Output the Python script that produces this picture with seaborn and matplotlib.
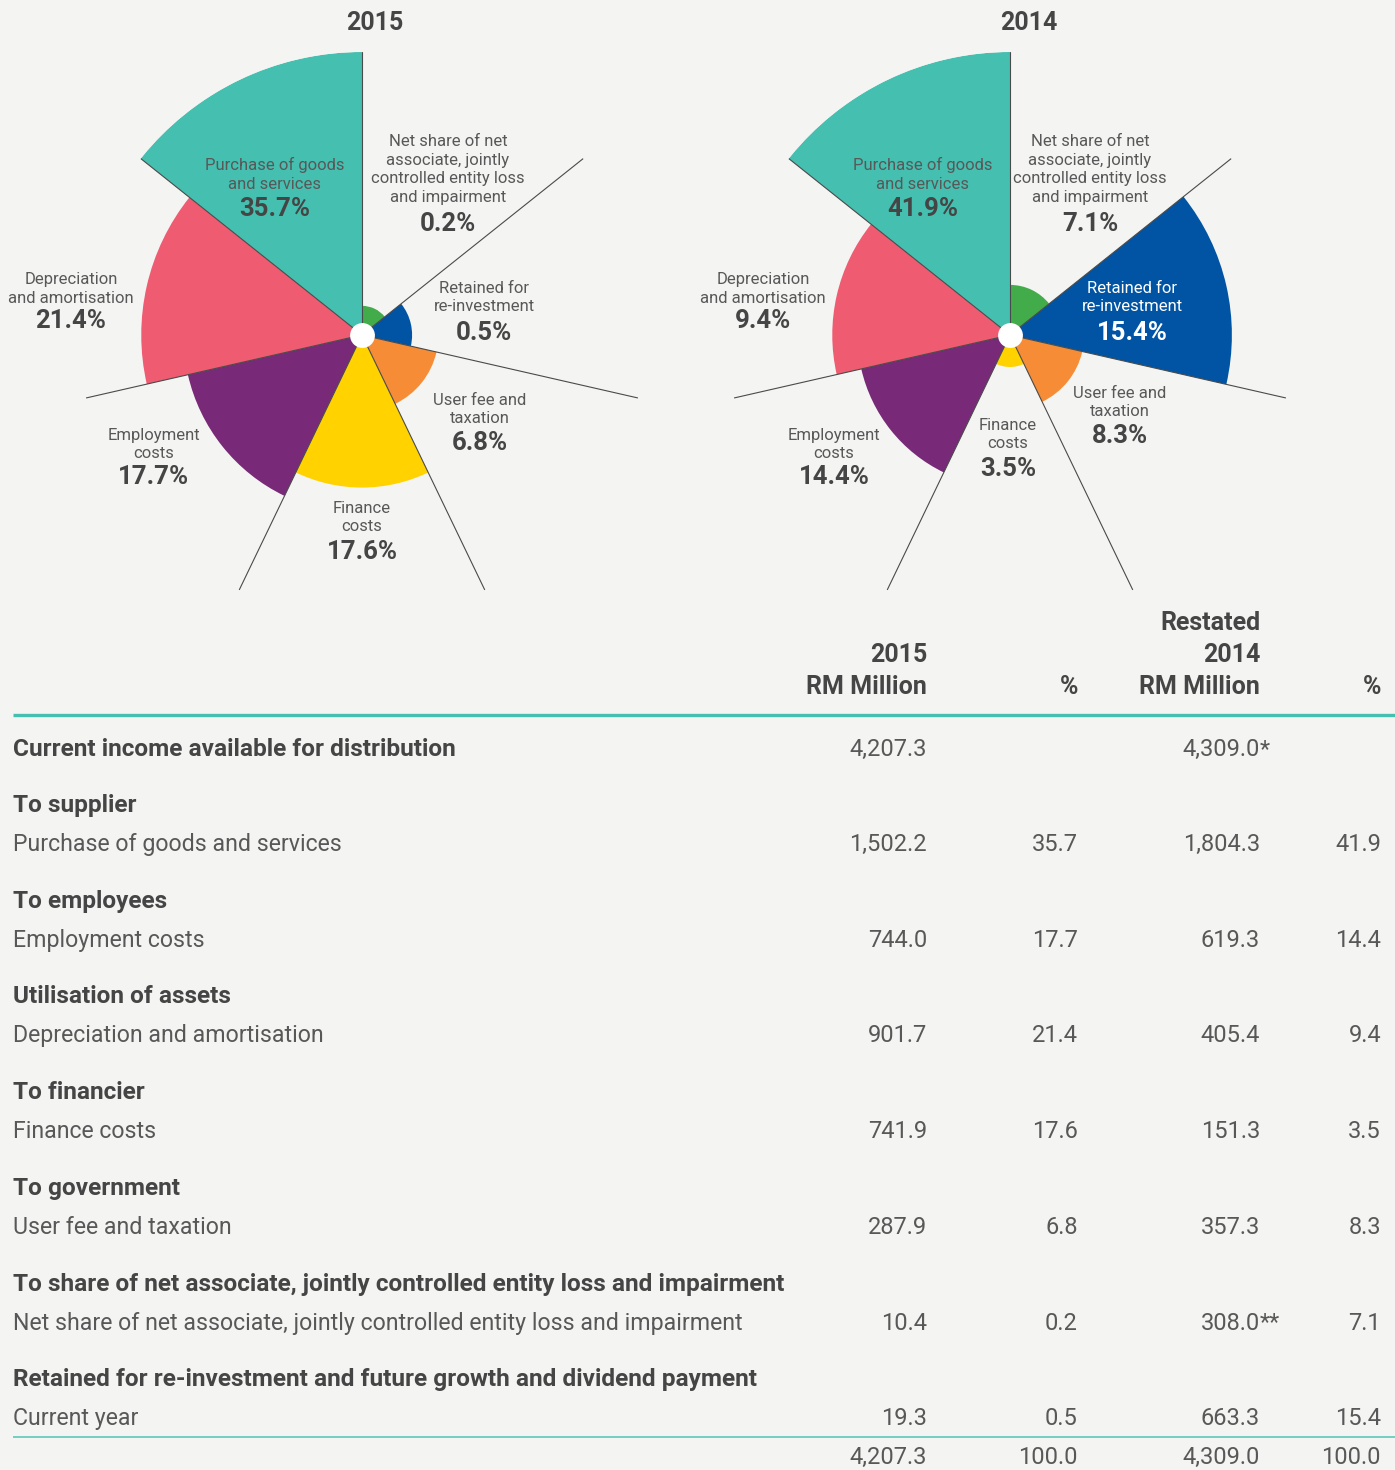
import numpy as np
import pandas as pd
import matplotlib.pyplot as plt
import seaborn as sns

# ---- data (table order) ----
groups = ["To supplier", "To employees", "Utilisation of assets", "To financier", "To government",
          "To share of net associate, jointly controlled entity loss and impairment",
          "Retained for re-investment and future growth and dividend payment"]
items = ["Purchase of goods and services", "Employment costs", "Depreciation and amortisation",
         "Finance costs", "User fee and taxation",
         "Net share of net associate, jointly controlled entity loss and impairment", "Current year"]
rm_2015 = [1502.2, 744.0, 901.7, 741.9, 287.9, 10.4, 19.3]
pct_2015 = [35.7, 17.7, 21.4, 17.6, 6.8, 0.2, 0.5]
rm_2014 = [1804.3, 619.3, 405.4, 151.3, 357.3, 308.0, 663.3]
pct_2014 = [41.9, 14.4, 9.4, 3.5, 8.3, 7.1, 15.4]
note_2014 = ["", "", "", "", "", "**", ""]
income_2015 = 4207.3
income_2014 = 4309.0
total_pct = 100.0

# ---- rose charts: clockwise from 12 o'clock ----
chart_order = [5, 6, 4, 3, 1, 2, 0]
chart_labels = ["Net share of net\nassociate, jointly\ncontrolled entity loss\nand impairment",
                "Retained for\nre-investment", "User fee and\ntaxation", "Finance\ncosts",
                "Employment\ncosts", "Depreciation\nand amortisation", "Purchase of goods\nand services"]
# wedge lengths as drawn in the chart (longest = 100)
wedge_2015 = [10.3, 17.7, 27.0, 53.9, 63.1, 78.0, 100]
wedge_2014 = [17.7, 78.4, 26.2, 11.3, 53.9, 62.8, 100]

df = pd.DataFrame({"group": groups, "item": items, "rm_2015": rm_2015, "pct_2015": pct_2015,
                   "rm_2014": rm_2014, "pct_2014": pct_2014, "note_2014": note_2014})

sns.set_theme(style="white", rc={"figure.facecolor": "#F4F4F2", "axes.facecolor": "#F4F4F2"})
plt.rcParams['font.family'] = ['Roboto', 'DejaVu Sans']
colors = sns.color_palette(["#43AC4A", "#0054A3", "#F68C35", "#FFD200", "#782A78", "#EF5B71", "#45BFB0"])

W, H = 1395, 1470
fig = plt.figure(figsize=(W / 100, H / 100), dpi=100)
fig.patch.set_facecolor("#F4F4F2")

# overlay in pixel coordinates for all text and rules, kept above the charts
tab = fig.add_axes([0, 0, 1, 1])
tab.set_xlim(0, W)
tab.set_ylim(H, 0)
tab.axis('off')
tab.set_zorder(10)
tab.patch.set_alpha(0)

TXT = "#585858"
BOLD = "#454545"

# label placement (pixel positions in figure): x, name centre y, pct centre y
pos_2015 = [(448, 169.5, 224), (484, 297.5, 333), (480, 409.5, 443), (362, 517.5, 552),
            (154, 444.5, 477), (71, 289, 321), (275, 174.5, 209)]
pos_2014 = [(1090, 169.5, 224), (1132, 297.5, 333), (1120, 402.5, 436), (1008, 434.5, 469),
            (834, 444.5, 477), (763, 289, 321), (923, 174.5, 209)]


def rose(cx, cy, title, title_x, pcts, wedges, pos, white=()):
    R = 283
    ax = fig.add_axes([(cx - R) / W, (H - cy - R) / H, 2 * R / W, 2 * R / H], projection='polar')
    ax.set_theta_zero_location('N')
    ax.set_theta_direction(-1)
    n = len(wedges)
    width = 2 * np.pi / n
    edges = np.arange(n) * width
    ax.bar(edges + width / 2, wedges, width=width, color=colors, linewidth=0, zorder=2)
    for t in edges:
        ax.plot([t, t], [0, 100], color="#4a4a4a", lw=0.8, zorder=3)
    ax.scatter([0], [0], s=320, color="white", zorder=5, linewidth=0)
    ax.set_ylim(0, 100)
    ax.patch.set_alpha(0)
    ax.axis('off')

    tab.text(title_x, 23, title, ha='center', va='center', fontsize=18, fontweight='bold', color=BOLD)
    for i, k in enumerate(chart_order):
        x, ny, py = pos[i]
        c_name = "white" if i in white else TXT
        c_pct = "white" if i in white else BOLD
        tab.text(x, ny, chart_labels[i], ha='center', va='center', fontsize=12,
                 color=c_name, linespacing=1.32)
        tab.text(x, py, f"{pcts[k]:.1f}%", ha='center', va='center', fontsize=18.5,
                 fontweight='bold', color=c_pct)


rose(362, 335, "2015", 375, df["pct_2015"], wedge_2015, pos_2015)
rose(1010, 335, "2014", 1029, df["pct_2014"], wedge_2014, pos_2014, white=(1,))

# ---- table ----
c1, c2, c3, c4 = 927, 1078, 1260, 1381
hd = dict(fontsize=18, fontweight='bold', color=BOLD, va='baseline')
tab.text(c3, 630, "Restated", ha='right', **hd)
tab.text(c1, 662, "2015", ha='right', **hd)
tab.text(c3, 662, "2014", ha='right', **hd)
tab.text(c1, 694, "RM Million", ha='right', **hd)
tab.text(c2, 694, "%", ha='right', **hd)
tab.text(c3, 694, "RM Million", ha='right', **hd)
tab.text(c4, 694, "%", ha='right', **hd)
tab.plot([13, W], [715, 715], color="#45BFB0", lw=2.4, solid_capstyle='butt')

bd = dict(fontsize=17.6, fontweight='bold', color=BOLD, va='baseline')
rg = dict(fontsize=16.7, color=TXT, va='baseline')
num = dict(fontsize=17, color=TXT, va='baseline')

tab.text(13, 756, "Current income available for distribution", ha='left', **bd)
tab.text(c1, 756, f"{income_2015:,.1f}", ha='right', **num)
tab.text(c3, 756, f"{income_2014:,.1f}", ha='right', **num)
tab.text(c3, 756, "*", ha='left', **num)

y = 812
for _, r in df.iterrows():
    tab.text(13, y, r["group"], ha='left', **bd)
    yv = y + 39
    tab.text(13, yv, r["item"], ha='left', **rg)
    tab.text(c1, yv, f"{r['rm_2015']:,.1f}", ha='right', **num)
    tab.text(c2, yv, f"{r['pct_2015']:.1f}", ha='right', **num)
    tab.text(c3, yv, f"{r['rm_2014']:,.1f}", ha='right', **num)
    if r["note_2014"]:
        tab.text(c3, yv, r["note_2014"], ha='left', **num)
    tab.text(c4, yv, f"{r['pct_2014']:.1f}", ha='right', **num)
    y += 95.7

tab.plot([13, W], [1437, 1437], color="#5CC8B9", lw=1.2, solid_capstyle='butt')
tab.text(c1, 1464, f"{income_2015:,.1f}", ha='right', **num)
tab.text(c2, 1464, f"{total_pct:.1f}", ha='right', **num)
tab.text(c3, 1464, f"{income_2014:,.1f}", ha='right', **num)
tab.text(c4, 1464, f"{total_pct:.1f}", ha='right', **num)

fig.savefig("out.png", dpi=100, facecolor=fig.get_facecolor())
